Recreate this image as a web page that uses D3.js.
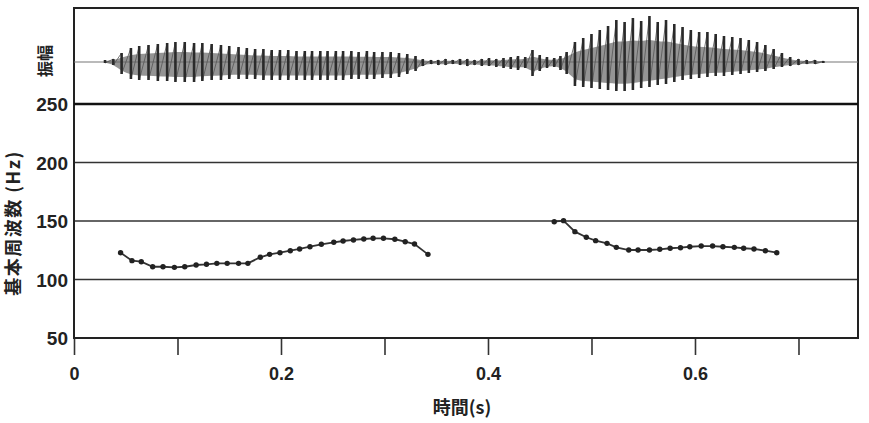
<!DOCTYPE html>
<html>
<head>
<meta charset="utf-8">
<script src="https://cdn.jsdelivr.net/npm/d3@7"></script>
<style>
  body { margin: 0; background: #fff; }
  text { font-family: "Liberation Sans", "Noto Sans CJK JP", sans-serif; font-weight: bold; fill: #222; }
  .jp { font-family: "Noto Sans CJK JP", sans-serif; }
</style>
</head>
<body>
<div id="chart"></div>
<script>
// F0 track, two voiced stretches (time in s, frequency in Hz)
const f0TimeA = [0.045, 0.056, 0.065, 0.076, 0.086, 0.097, 0.107, 0.118, 0.128, 0.138, 0.148, 0.159, 0.168, 0.180, 0.189,
                 0.199, 0.209, 0.218, 0.228, 0.239, 0.251, 0.260, 0.270, 0.280, 0.289, 0.299, 0.310, 0.320, 0.329, 0.342];
const f0HzA = [122.9, 116.1, 115.2, 110.9, 110.9, 110.4, 110.9, 112.4, 113.0, 113.8, 113.8, 113.8, 113.8, 119.0, 121.5,
               122.9, 124.6, 126.1, 128.0, 130.1, 131.8, 132.9, 133.8, 134.6, 135.2, 135.2, 134.4, 132.3, 130.3, 121.5];
const f0TimeB = [0.464, 0.473, 0.484, 0.495, 0.504, 0.515, 0.524, 0.536, 0.545, 0.556, 0.566, 0.576, 0.586, 0.595, 0.606,
                 0.617, 0.627, 0.638, 0.647, 0.657, 0.668, 0.679];
const f0HzB = [149.4, 150.3, 140.9, 136.1, 133.2, 130.9, 127.5, 125.2, 125.2, 125.2, 125.8, 126.7, 127.2, 128.0, 128.6,
               128.6, 128.0, 127.5, 126.7, 126.1, 124.6, 122.9];

// waveform: one entry per glottal pulse (time, upper and lower peak, arbitrary units)
const pulseTime = [0.030, 0.038,
  0.046, 0.055, 0.063, 0.072, 0.081, 0.090, 0.098, 0.107, 0.116, 0.124, 0.133, 0.142, 0.150, 0.159, 0.167, 0.175, 0.183,
  0.191, 0.199, 0.207, 0.215, 0.223, 0.230, 0.238, 0.245, 0.253, 0.260, 0.268, 0.275, 0.283, 0.290, 0.298, 0.306, 0.314,
  0.322, 0.330, 0.337,
  0.345, 0.352, 0.359, 0.366, 0.373, 0.380, 0.387, 0.394, 0.401, 0.408, 0.415, 0.422, 0.429, 0.436, 0.443, 0.450, 0.457,
  0.464, 0.470,
  0.476, 0.484, 0.492, 0.500, 0.508, 0.516, 0.524, 0.532, 0.540, 0.548, 0.556, 0.564, 0.572, 0.580, 0.588, 0.596, 0.604,
  0.612, 0.620, 0.628, 0.636, 0.644, 0.652, 0.660, 0.668, 0.676, 0.684, 0.692, 0.700, 0.708, 0.716, 0.724];
const pulseTop = [2, 3,
  9, 14, 16, 17, 18, 19, 20, 20, 19, 19, 18, 17, 16, 15, 14, 13, 13,
  12, 12, 12, 11, 11, 11, 11, 11, 11, 11, 11, 10, 11, 10, 10, 10, 9,
  8, 6, 3,
  2, 2, 3, 2, 3, 3, 2, 3, 4, 3, 4, 5, 6, 5, 12, 7, 5,
  4, 6,
  10, 20, 24, 28, 32, 36, 42, 40, 44, 41, 46, 40, 42, 38, 35, 32, 30,
  30, 28, 26, 25, 24, 22, 20, 17, 13, 9, 5, 3, 2, 2, 1];
const pulseBot = [-1, -3,
  -12, -17, -18, -18, -19, -19, -20, -20, -20, -19, -18, -18, -17, -17, -17, -17, -18,
  -18, -18, -18, -18, -18, -18, -18, -18, -18, -18, -17, -17, -17, -17, -16, -16, -15,
  -12, -9, -4,
  -2, -3, -3, -2, -3, -4, -3, -4, -4, -5, -6, -7, -8, -6, -14, -9, -6,
  -5, -8,
  -12, -24, -25, -26, -27, -28, -29, -29, -28, -26, -25, -23, -22, -20, -18, -17, -16,
  -15, -14, -14, -13, -12, -11, -10, -9, -7, -5, -4, -3, -2, -2, -1];

const xTicks = [0, 0.1, 0.2, 0.3, 0.4, 0.5, 0.6, 0.7];
const xLabels = { 0: '0', 0.2: '0.2', 0.4: '0.4', 0.6: '0.6' };
const yTicks = [50, 100, 150, 200, 250];

const width = 869;
const height = 423;
const plotLeft = 74, plotRight = 858, plotTop = 8, plotSplit = 104, plotBottom = 338;

const svg = d3.select('#chart')
  .append('svg')
  .attr('width', width)
  .attr('height', height);

const x = d3.scaleLinear().domain([0, 0.7575]).range([plotLeft, plotRight]);
const y = d3.scaleLinear().domain([50, 250]).range([plotBottom, plotSplit]);
const amp = d3.scaleLinear().domain([-50, 50]).range([112, 12]);

// grid lines for frequency panel
svg.append('g')
  .selectAll('line')
  .data(yTicks.slice(1, 4))
  .join('line')
  .attr('x1', plotLeft).attr('x2', plotRight)
  .attr('y1', d => y(d)).attr('y2', d => y(d))
  .attr('stroke', '#333')
  .attr('stroke-width', 1.5);

// y tick labels
svg.append('g')
  .attr('transform', `translate(${plotLeft - 4},0)`)
  .call(d3.axisLeft(y).tickValues(yTicks).tickSize(0).tickPadding(2))
  .call(g => g.select('.domain').remove())
  .selectAll('text')
  .attr('font-size', '19px')
  .attr('dy', '0.36em');

// x axis with ticks below frame
svg.append('g')
  .attr('transform', `translate(0,${plotBottom})`)
  .call(d3.axisBottom(x).tickValues(xTicks).tickSize(17).tickPadding(12)
    .tickFormat(d => xLabels[d] || ''))
  .call(g => g.select('.domain').remove())
  .call(g => g.selectAll('line').attr('stroke', '#333').attr('stroke-width', 1.6))
  .selectAll('text')
  .attr('font-size', '18px');

// frame
svg.append('rect')
  .attr('x', plotLeft).attr('y', plotTop)
  .attr('width', plotRight - plotLeft).attr('height', plotBottom - plotTop)
  .attr('fill', 'none')
  .attr('stroke', '#222')
  .attr('stroke-width', 2);

svg.append('line')
  .attr('x1', plotLeft).attr('x2', plotRight)
  .attr('y1', plotSplit).attr('y2', plotSplit)
  .attr('stroke', '#111')
  .attr('stroke-width', 2.6);

// waveform
const pulses = pulseTime.map((t, i) => ({ t, hi: pulseTop[i], lo: pulseBot[i] }));

svg.append('line')
  .attr('x1', plotLeft).attr('x2', plotRight)
  .attr('y1', amp(0)).attr('y2', amp(0))
  .attr('stroke', '#777')
  .attr('stroke-width', 1.2);

svg.append('path')
  .datum(pulses)
  .attr('d', d3.area().x(d => x(d.t)).y0(d => amp(d.lo * 0.75)).y1(d => amp(d.hi * 0.5)).curve(d3.curveBasis))
  .attr('fill', '#666')
  .attr('opacity', 0.7);

svg.append('path')
  .datum(pulses.flatMap(d => [[d.t, d.hi], [d.t, d.lo]]))
  .attr('d', d3.line().x(d => x(d[0])).y(d => amp(d[1])))
  .attr('fill', 'none')
  .attr('stroke', '#555')
  .attr('stroke-width', 0.8);

svg.append('g')
  .selectAll('line')
  .data(pulses)
  .join('line')
  .attr('x1', d => x(d.t)).attr('x2', d => x(d.t))
  .attr('y1', d => amp(d.hi)).attr('y2', d => amp(d.lo))
  .attr('stroke', '#2a2a2a')
  .attr('stroke-width', 2.6);

// F0 tracks
const f0Line = d3.line().x(d => x(d[0])).y(d => y(d[1]));
[[f0TimeA, f0HzA], [f0TimeB, f0HzB]].forEach(([ts, hz]) => {
  const pts = ts.map((t, i) => [t, hz[i]]);
  svg.append('path')
    .datum(pts)
    .attr('d', f0Line)
    .attr('fill', 'none')
    .attr('stroke', '#333')
    .attr('stroke-width', 1.8);
  svg.append('g')
    .selectAll('circle')
    .data(pts)
    .join('circle')
    .attr('cx', d => x(d[0]))
    .attr('cy', d => y(d[1]))
    .attr('r', 2.7)
    .attr('fill', '#222');
});

// axis titles
svg.append('text')
  .attr('class', 'jp')
  .attr('transform', `translate(51,${(plotTop + plotSplit) / 2 + 5}) rotate(-90)`)
  .attr('text-anchor', 'middle')
  .attr('font-size', '16px')
  .text('振幅');

svg.append('text')
  .attr('class', 'jp')
  .attr('transform', `translate(20,${(plotSplit + plotBottom) / 2 + 2}) rotate(-90)`)
  .attr('text-anchor', 'middle')
  .attr('font-size', '18px')
  .attr('letter-spacing', '1.5px')
  .text('基本周波数 (Hz)');

svg.append('text')
  .attr('class', 'jp')
  .attr('x', (plotLeft + plotRight) / 2 - 4)
  .attr('y', 414)
  .attr('text-anchor', 'middle')
  .attr('font-size', '18px')
  .text('時間(s)');
</script>
</body>
</html>
